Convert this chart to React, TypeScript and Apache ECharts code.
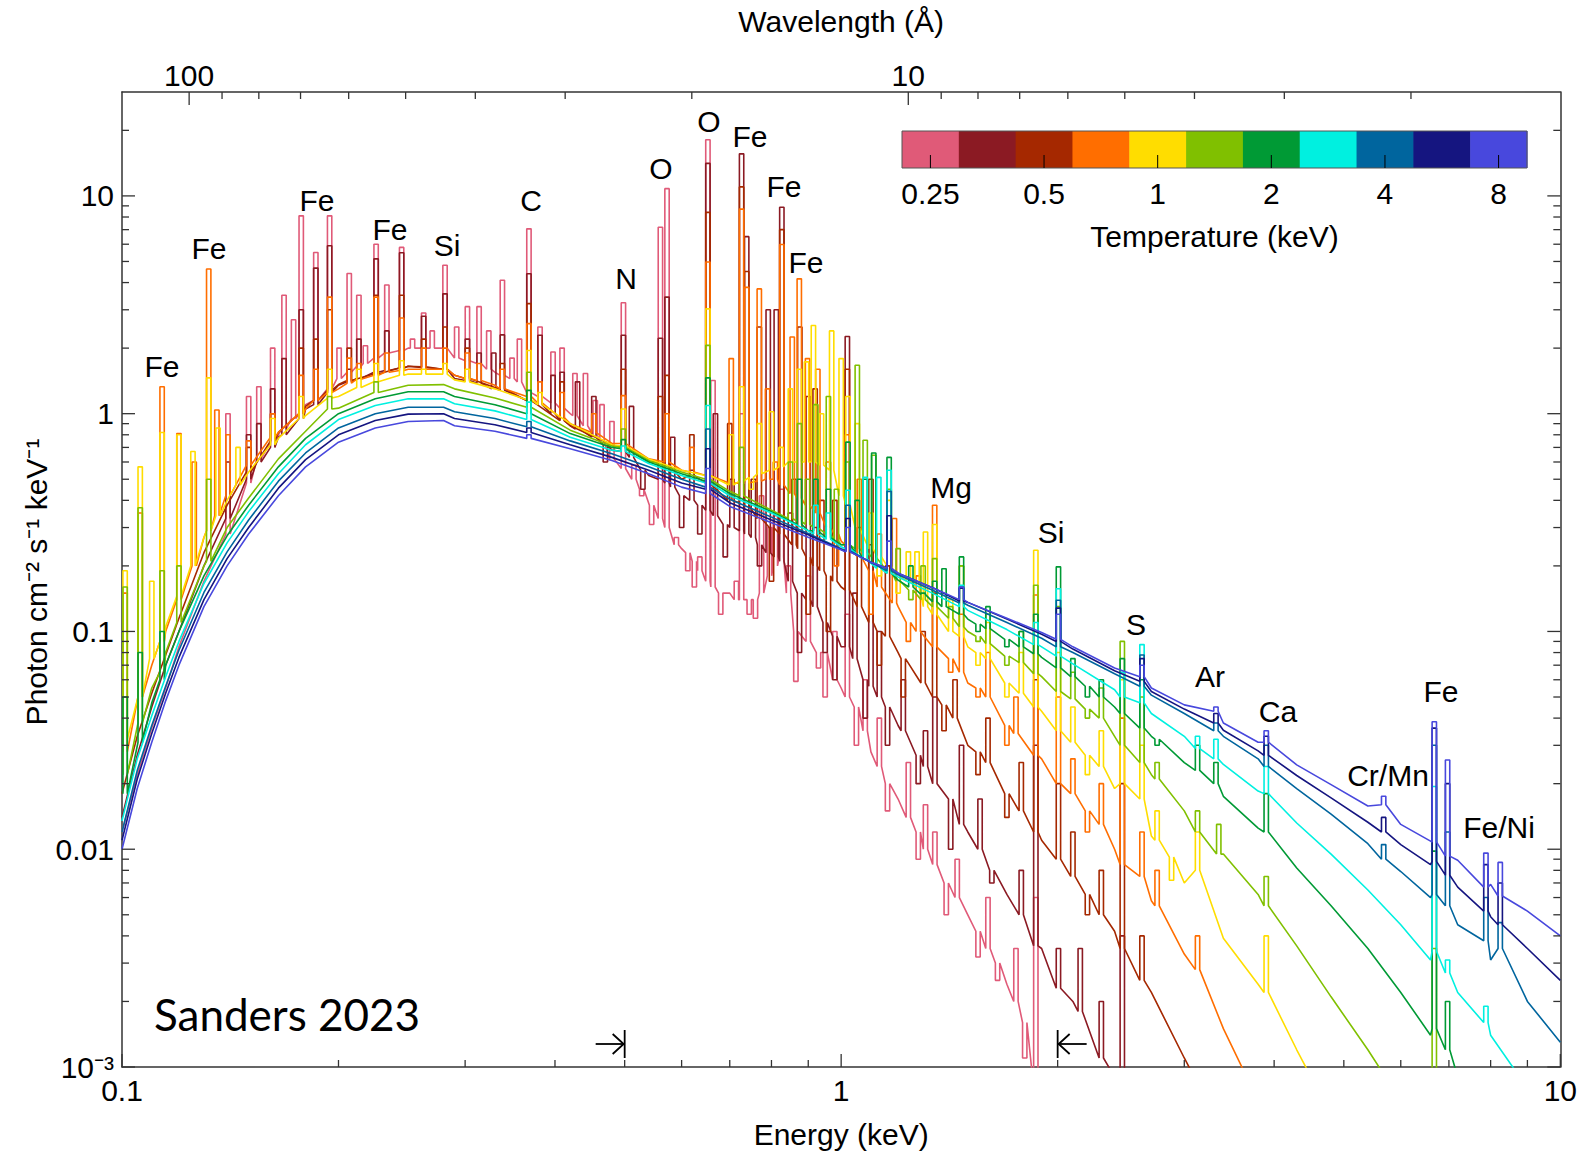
import React, { useEffect, useRef } from "react";
import * as echarts from "echarts";

const FONT = "'Liberation Sans', Arial, Helvetica, sans-serif";
const HC = 12.398; // keV * Angstrom

// ---------------- DATA ----------------
const energyGrid = [0.1, 0.105, 0.11, 0.115, 0.12, 0.13, 0.14, 0.15, 0.165, 0.18, 0.2, 0.225, 0.25, 0.28, 0.29, 0.33, 0.37, 0.42, 0.48, 0.54, 0.6, 0.7, 0.8, 0.9, 1.0, 1.1, 1.2, 1.35, 1.5, 1.7, 1.9, 2.1, 2.4, 2.7, 3.0, 3.4, 3.8, 4.3, 4.8, 5.4, 6.0, 6.6, 7.2, 8.0, 9.0, 10.0];

const temperatureKeV = [0.25, 0.35, 0.5, 0.71, 1.0, 1.41, 2.0, 2.83, 4.0, 5.66, 8.0];
const colorbarLabels = ["0.25", "0.5", "1", "2", "4", "8"];
const seriesColors = ["#e05a78", "#8b1a23", "#a52800", "#ff6e00", "#ffdd00", "#80c000", "#009a35", "#00f0e0", "#00659e", "#151580", "#4848dd"];

// continuum level of each spectrum on energyGrid (photon cm^-2 s^-1 keV^-1)
const cont025 = [0.012, 0.022, 0.036, 0.055, 0.085, 0.17, 0.3, 0.48, 0.8, 1.1, 1.45, 1.8, 2.0, 2.0, 1.8, 1.55, 1.25, 1.0, 0.6, 0.35, 0.24, 0.15, 0.19, 0.09, 0.055, 0.028, 0.017, 0.0085, 0.005, 0.0024, 0.0009, 0.0004, 0.0002, 0.0001, 0.00005, 0.00002, 0.00001, 0.000005, 0.000003, 0.000002, 0.000001, 0.0000005, 0.0000003, 0.0000002, 0.0000001, 0.00000005];
const cont035 = [0.014, 0.027, 0.045, 0.07, 0.1, 0.2, 0.34, 0.5, 0.78, 1.05, 1.35, 1.55, 1.65, 1.6, 1.45, 1.3, 1.15, 0.88, 0.68, 0.52, 0.42, 0.3, 0.22, 0.14, 0.085, 0.056, 0.037, 0.02, 0.012, 0.0062, 0.0035, 0.002, 0.0009, 0.0004, 0.0002, 0.0001, 0.00005, 0.00002, 0.00001, 0.000005, 0.000003, 0.000002, 0.000001, 0.0000005, 0.0000003, 0.0000001];
const cont050 = [0.018, 0.033, 0.052, 0.078, 0.115, 0.23, 0.38, 0.54, 0.82, 1.08, 1.36, 1.55, 1.65, 1.62, 1.5, 1.32, 1.15, 0.88, 0.72, 0.6, 0.5, 0.4, 0.3, 0.22, 0.16, 0.11, 0.08, 0.05, 0.03, 0.018, 0.011, 0.0075, 0.0042, 0.0022, 0.0011, 0.0005, 0.0002, 0.0001, 0.00005, 0.00002, 0.00001, 0.000005, 0.000003, 0.000002, 0.000001, 0.0000005];
const cont071 = [0.025, 0.045, 0.07, 0.1, 0.14, 0.27, 0.42, 0.58, 0.82, 1.05, 1.3, 1.5, 1.6, 1.6, 1.5, 1.35, 1.2, 0.9, 0.73, 0.62, 0.55, 0.48, 0.5, 0.38, 0.26, 0.18, 0.13, 0.085, 0.058, 0.037, 0.026, 0.018, 0.01, 0.0058, 0.0033, 0.0015, 0.0007, 0.0003, 0.00015, 0.00007, 0.00003, 0.00002, 0.00001, 0.000005, 0.000003, 0.000001];
const cont100 = [0.03, 0.05, 0.075, 0.105, 0.145, 0.27, 0.4, 0.54, 0.77, 0.98, 1.2, 1.4, 1.52, 1.52, 1.43, 1.3, 1.16, 0.9, 0.72, 0.62, 0.55, 0.47, 0.55, 0.6, 0.42, 0.25, 0.18, 0.12, 0.085, 0.058, 0.043, 0.031, 0.019, 0.0115, 0.007, 0.0039, 0.0024, 0.0012, 0.0006, 0.0003, 0.00015, 0.0001, 0.00005, 0.00002, 0.00001, 0.000005];
const cont141 = [0.021, 0.036, 0.055, 0.08, 0.11, 0.2, 0.3, 0.41, 0.62, 0.83, 1.06, 1.25, 1.35, 1.36, 1.3, 1.18, 1.07, 0.84, 0.71, 0.61, 0.54, 0.44, 0.36, 0.3, 0.25, 0.21, 0.17, 0.13, 0.1, 0.077, 0.062, 0.049, 0.033, 0.022, 0.015, 0.0095, 0.0062, 0.0036, 0.0021, 0.0012, 0.0007, 0.0004, 0.0002, 0.0001, 0.00005, 0.00002];
const cont200 = [0.017, 0.03, 0.047, 0.07, 0.1, 0.18, 0.275, 0.38, 0.57, 0.77, 1.0, 1.17, 1.26, 1.26, 1.2, 1.1, 1.0, 0.81, 0.7, 0.6, 0.53, 0.43, 0.355, 0.29, 0.25, 0.205, 0.172, 0.137, 0.114, 0.092, 0.076, 0.062, 0.045, 0.033, 0.025, 0.0175, 0.0125, 0.0082, 0.0055, 0.0035, 0.0022, 0.0014, 0.0009, 0.0005, 0.00025, 0.00012];
const cont283 = [0.0135, 0.026, 0.041, 0.062, 0.09, 0.166, 0.255, 0.355, 0.53, 0.72, 0.94, 1.09, 1.17, 1.17, 1.11, 1.03, 0.94, 0.78, 0.68, 0.59, 0.52, 0.42, 0.35, 0.29, 0.245, 0.206, 0.178, 0.148, 0.125, 0.102, 0.085, 0.071, 0.054, 0.042, 0.033, 0.0245, 0.0185, 0.0132, 0.0095, 0.0065, 0.0045, 0.0031, 0.0022, 0.0014, 0.0008, 0.00045];
const cont400 = [0.012, 0.023, 0.037, 0.056, 0.082, 0.151, 0.232, 0.325, 0.49, 0.66, 0.86, 1.0, 1.07, 1.07, 1.02, 0.95, 0.87, 0.75, 0.655, 0.57, 0.5, 0.405, 0.335, 0.282, 0.24, 0.207, 0.182, 0.153, 0.132, 0.11, 0.093, 0.08, 0.064, 0.051, 0.042, 0.033, 0.026, 0.019, 0.0145, 0.0106, 0.0079, 0.006, 0.0045, 0.0031, 0.002, 0.0013];
const cont566 = [0.011, 0.021, 0.034, 0.052, 0.076, 0.14, 0.216, 0.3, 0.455, 0.615, 0.8, 0.93, 0.995, 1.0, 0.95, 0.89, 0.82, 0.72, 0.63, 0.55, 0.48, 0.39, 0.325, 0.278, 0.238, 0.208, 0.185, 0.157, 0.136, 0.114, 0.097, 0.083, 0.066, 0.053, 0.044, 0.0352, 0.0283, 0.0218, 0.0172, 0.0133, 0.0105, 0.0085, 0.0067, 0.0049, 0.0035, 0.0025];
const cont800 = [0.01, 0.019, 0.031, 0.048, 0.07, 0.13, 0.2, 0.28, 0.42, 0.57, 0.74, 0.86, 0.92, 0.93, 0.88, 0.83, 0.77, 0.69, 0.61, 0.53, 0.46, 0.375, 0.316, 0.271, 0.237, 0.208, 0.185, 0.157, 0.136, 0.115, 0.099, 0.085, 0.068, 0.055, 0.046, 0.038, 0.031, 0.0244, 0.0198, 0.0158, 0.013, 0.0109, 0.0089, 0.0069, 0.0052, 0.004];

// emission lines / features: [energy keV, level at the line, local level beside it]
const lines025 = [[0.1404, 1.0, 0.28], [0.15, 1.2, 0.48], [0.155, 1.33, 0.62], [0.162, 2.0, 0.74], [0.1645, 2.75, 0.78], [0.168, 3.5, 0.85], [0.1732, 2.7, 0.95], [0.1775, 8.1, 1.0], [0.186, 5.5, 1.15], [0.1944, 8.1, 1.3], [0.2004, 2.0, 1.45], [0.207, 4.4, 1.55], [0.2135, 3.5, 1.65], [0.218, 2.05, 1.7], [0.2256, 6.0, 1.8], [0.2335, 3.9, 1.9], [0.2448, 5.8, 1.95], [0.2535, 2.2, 2.0], [0.2627, 2.9, 2.0], [0.27, 2.4, 2.0], [0.2813, 4.8, 2.0], [0.292, 2.5, 1.8], [0.3022, 3.1, 1.75], [0.3137, 3.1, 1.7], [0.3236, 2.4, 1.6], [0.3288, 3.5, 1.55], [0.338, 4.1, 1.5], [0.3486, 1.8, 1.45], [0.357, 2.2, 1.4], [0.368, 7.06, 1.25], [0.3813, 2.5, 1.2], [0.3975, 1.92, 1.12], [0.4092, 2.0, 1.06], [0.4264, 1.53, 0.98], [0.441, 1.53, 0.88], [0.455, 1.15, 0.8], [0.465, 1.1, 0.74], [0.48, 0.92, 0.62], [0.498, 3.23, 0.56], [0.515, 0.58, 0.5], [0.528, 0.42, 0.45], [0.545, 0.31, 0.38], [0.5606, 7.18, 0.33], [0.5726, 10.8, 0.3], [0.59, 0.27, 0.25], [0.612, 0.19, 0.23], [0.625, 0.16, 0.21], [0.636, 0.22, 0.19], [0.6527, 18.1, 0.17], [0.6634, 1.42, 0.16], [0.68, 0.12, 0.15], [0.715, 0.17, 0.14], [0.727, 1.0, 0.14], [0.745, 0.12, 0.14], [0.76, 0.115, 0.14], [0.775, 0.42, 0.15], [0.795, 0.3, 0.18], [0.81, 0.34, 0.2], [0.826, 0.45, 0.22], [0.845, 0.2, 0.15], [0.865, 0.059, 0.1], [0.9, 0.18, 0.09], [0.93, 0.068, 0.08], [0.95, 0.05, 0.08], [0.98, 0.1, 0.06], [1.02, 0.12, 0.05], [1.05, 0.03, 0.045], [1.08, 0.06, 0.035], [1.13, 0.04, 0.024], [1.16, 0.015, 0.02], [1.24, 0.025, 0.014], [1.28, 0.009, 0.012], [1.31, 0.016, 0.01], [1.35, 0.012, 0.0085], [1.4, 0.005, 0.007], [1.45, 0.009, 0.006], [1.55, 0.0032, 0.0042], [1.6, 0.006, 0.0035], [1.65, 0.0025, 0.003], [1.75, 0.0035, 0.002], [1.8, 0.0011, 0.0016], [1.865, 0.006, 0.0008]];
const lines035 = [[0.1404, 0.6, 0.33], [0.15, 0.8, 0.5], [0.155, 0.9, 0.6], [0.162, 1.3, 0.7], [0.168, 1.79, 0.8], [0.1775, 3.0, 0.95], [0.186, 4.66, 1.1], [0.1944, 5.9, 1.25], [0.207, 1.6, 1.4], [0.2135, 2.2, 1.45], [0.2256, 5.14, 1.55], [0.2335, 2.4, 1.58], [0.2448, 5.48, 1.62], [0.2627, 2.8, 1.63], [0.2813, 3.55, 1.6], [0.3022, 2.2, 1.42], [0.3137, 1.9, 1.38], [0.3288, 1.9, 1.3], [0.338, 2.3, 1.28], [0.368, 4.39, 1.15], [0.3813, 2.29, 1.1], [0.3975, 1.5, 1.0], [0.4092, 1.55, 0.93], [0.43, 1.4, 0.85], [0.453, 1.2, 0.78], [0.47, 0.6, 0.72], [0.498, 2.29, 0.67], [0.511, 1.08, 0.63], [0.53, 0.45, 0.55], [0.5606, 2.22, 0.5], [0.5726, 3.43, 0.48], [0.583, 0.78, 0.46], [0.6, 0.3, 0.42], [0.62, 0.55, 0.4], [0.636, 0.28, 0.38], [0.6527, 14.1, 0.36], [0.6686, 1.0, 0.34], [0.69, 0.22, 0.31], [0.705, 0.5, 0.3], [0.727, 15.6, 0.29], [0.739, 6.5, 0.28], [0.755, 0.5, 0.27], [0.77, 0.2, 0.25], [0.7917, 3.0, 0.23], [0.8124, 3.0, 0.22], [0.827, 8.87, 0.21], [0.85, 0.35, 0.17], [0.875, 0.08, 0.15], [0.9, 1.2, 0.14], [0.92, 0.3, 0.13], [0.95, 0.08, 0.11], [0.98, 0.06, 0.095], [1.02, 2.26, 0.085], [1.045, 0.15, 0.075], [1.08, 0.04, 0.06], [1.1, 0.25, 0.056], [1.13, 0.1, 0.05], [1.16, 0.03, 0.045], [1.22, 0.06, 0.035], [1.28, 0.02, 0.027], [1.31, 0.035, 0.024], [1.35, 0.05, 0.02], [1.42, 0.01, 0.017], [1.47, 0.03, 0.013], [1.56, 0.017, 0.01], [1.62, 0.007, 0.008], [1.78, 0.008, 0.005], [1.865, 0.03, 0.0036], [2.005, 0.0035, 0.0023], [2.15, 0.0035, 0.0018], [2.3, 0.002, 0.0011], [2.46, 0.004, 0.0007]];
const lines050 = [[0.15, 0.7, 0.54], [0.162, 1.0, 0.75], [0.1775, 2.0, 1.0], [0.186, 2.2, 1.15], [0.1944, 3.0, 1.28], [0.207, 2.0, 1.42], [0.2256, 3.5, 1.52], [0.2448, 3.5, 1.62], [0.2627, 2.2, 1.64], [0.2813, 2.5, 1.6], [0.3022, 2.0, 1.45], [0.338, 1.7, 1.3], [0.368, 3.2, 1.15], [0.4092, 1.4, 0.93], [0.498, 1.6, 0.7], [0.5606, 1.2, 0.6], [0.5726, 1.5, 0.58], [0.62, 0.8, 0.52], [0.6527, 8.4, 0.48], [0.7, 0.9, 0.4], [0.727, 11.0, 0.39], [0.739, 4.5, 0.38], [0.7694, 2.5, 0.33], [0.8, 0.17, 0.3], [0.827, 7.0, 0.28], [0.86, 0.5, 0.25], [0.876, 2.5, 0.24], [0.9, 0.12, 0.22], [0.92, 1.3, 0.2], [0.94, 0.4, 0.19], [0.96, 0.1, 0.18], [0.98, 0.4, 0.17], [1.02, 1.6, 0.155], [1.06, 0.3, 0.13], [1.1, 0.5, 0.11], [1.13, 0.07, 0.1], [1.16, 0.2, 0.095], [1.22, 0.05, 0.075], [1.3, 0.1, 0.058], [1.349, 0.15, 0.05], [1.39, 0.035, 0.046], [1.44, 0.06, 0.04], [1.55, 0.022, 0.028], [1.6, 0.04, 0.025], [1.7, 0.014, 0.018], [1.78, 0.025, 0.015], [1.865, 0.06, 0.012], [2.005, 0.02, 0.009], [2.1, 0.012, 0.0075], [2.2, 0.005, 0.0062], [2.3, 0.008, 0.005], [2.46, 0.02, 0.0035], [2.62, 0.004, 0.0025]];
const lines071 = [[0.101, 0.15, 0.028], [0.106, 0.35, 0.05], [0.1137, 1.33, 0.09], [0.12, 0.81, 0.14], [0.126, 0.6, 0.2], [0.132, 4.62, 0.29], [0.1355, 1.04, 0.34], [0.1404, 0.8, 0.42], [0.15, 0.75, 0.58], [0.162, 1.0, 0.78], [0.1775, 1.5, 1.0], [0.186, 1.6, 1.15], [0.1944, 3.43, 1.25], [0.207, 1.8, 1.38], [0.2135, 1.7, 1.44], [0.2256, 3.43, 1.5], [0.2335, 1.9, 1.55], [0.2448, 2.75, 1.58], [0.2627, 2.0, 1.6], [0.2813, 2.0, 1.6], [0.3022, 1.9, 1.45], [0.3137, 1.7, 1.42], [0.338, 1.6, 1.3], [0.368, 2.59, 1.2], [0.3813, 1.4, 1.12], [0.4092, 1.25, 0.96], [0.453, 1.0, 0.82], [0.498, 1.21, 0.73], [0.5726, 1.0, 0.6], [0.62, 0.7, 0.54], [0.6527, 4.97, 0.52], [0.7033, 1.79, 0.48], [0.727, 8.7, 0.48], [0.739, 3.8, 0.48], [0.7694, 3.74, 0.49], [0.79, 1.3, 0.5], [0.81, 0.6, 0.5], [0.827, 5.98, 0.47], [0.855, 2.25, 0.43], [0.8745, 4.16, 0.41], [0.898, 1.79, 0.38], [0.928, 1.6, 0.35], [0.96, 0.6, 0.3], [0.985, 0.2, 0.28], [1.02, 0.8, 0.25], [1.06, 0.5, 0.22], [1.1, 0.12, 0.19], [1.13, 0.28, 0.16], [1.186, 0.33, 0.135], [1.24, 0.09, 0.11], [1.28, 0.18, 0.1], [1.349, 0.38, 0.085], [1.42, 0.065, 0.075], [1.47, 0.12, 0.065], [1.55, 0.05, 0.055], [1.6, 0.08, 0.05], [1.7, 0.03, 0.037], [1.75, 0.05, 0.034], [1.865, 0.147, 0.027], [2.005, 0.05, 0.02], [2.1, 0.026, 0.018], [2.2, 0.012, 0.015], [2.3, 0.02, 0.013], [2.46, 0.04, 0.0085], [2.62, 0.012, 0.0075], [2.75, 0.008, 0.0055], [3.13, 0.004, 0.0028]];
const lines100 = [[0.101, 0.19, 0.032], [0.106, 0.57, 0.05], [0.11, 0.17, 0.075], [0.1137, 0.82, 0.09], [0.12, 0.8, 0.145], [0.1255, 0.67, 0.2], [0.132, 1.46, 0.29], [0.136, 0.86, 0.34], [0.145, 0.7, 0.47], [0.162, 0.95, 0.72], [0.1775, 1.2, 0.95], [0.1944, 1.6, 1.18], [0.2135, 1.6, 1.32], [0.2256, 1.7, 1.4], [0.2448, 1.75, 1.5], [0.2627, 1.6, 1.52], [0.2813, 1.7, 1.52], [0.3022, 1.6, 1.4], [0.368, 1.95, 1.16], [0.3813, 1.25, 1.1], [0.498, 1.05, 0.71], [0.6527, 3.03, 0.52], [0.7033, 0.8, 0.47], [0.727, 1.33, 0.49], [0.75, 0.45, 0.51], [0.77, 0.9, 0.53], [0.8, 1.02, 0.55], [0.825, 0.7, 0.57], [0.85, 1.3, 0.6], [0.8745, 1.6, 0.6], [0.895, 1.73, 0.6], [0.915, 2.54, 0.6], [0.939, 1.0, 0.58], [0.97, 2.4, 0.55], [1.0, 1.79, 0.42], [1.022, 1.2, 0.38], [1.053, 0.9, 0.3], [1.1, 0.35, 0.24], [1.13, 0.18, 0.22], [1.166, 0.4, 0.2], [1.2, 0.15, 0.18], [1.24, 0.232, 0.17], [1.275, 0.232, 0.16], [1.31, 0.286, 0.13], [1.349, 0.31, 0.12], [1.42, 0.14, 0.1], [1.47, 0.2, 0.095], [1.55, 0.07, 0.08], [1.6, 0.11, 0.075], [1.7, 0.05, 0.058], [1.78, 0.08, 0.052], [1.865, 0.236, 0.045], [2.005, 0.08, 0.035], [2.1, 0.045, 0.031], [2.2, 0.022, 0.027], [2.3, 0.035, 0.024], [2.46, 0.06, 0.02], [2.62, 0.03, 0.017], [2.75, 0.015, 0.011], [2.88, 0.0072, 0.0092], [3.13, 0.012, 0.008], [3.9, 0.004, 0.0022]];
const lines141 = [[0.101, 0.16, 0.022], [0.106, 0.37, 0.038], [0.1137, 0.19, 0.065], [0.12, 0.2, 0.11], [0.132, 0.5, 0.21], [0.1944, 1.2, 1.05], [0.2256, 1.4, 1.25], [0.368, 1.55, 1.07], [0.498, 0.85, 0.7], [0.6527, 2.06, 0.5], [0.727, 0.7, 0.42], [0.85, 0.6, 0.33], [0.875, 0.9, 0.32], [0.898, 0.5, 0.31], [0.922, 1.1, 0.3], [0.96, 1.2, 0.28], [0.985, 0.45, 0.26], [1.02, 0.6, 0.25], [1.053, 1.67, 0.24], [1.08, 0.755, 0.23], [1.11, 0.644, 0.22], [1.166, 0.45, 0.19], [1.2, 0.24, 0.17], [1.25, 0.14, 0.155], [1.3, 0.2, 0.14], [1.349, 0.216, 0.13], [1.42, 0.13, 0.115], [1.47, 0.2, 0.105], [1.55, 0.09, 0.095], [1.6, 0.12, 0.088], [1.7, 0.07, 0.077], [1.78, 0.1, 0.072], [1.865, 0.163, 0.064], [2.005, 0.13, 0.053], [2.1, 0.065, 0.049], [2.2, 0.04, 0.044], [2.3, 0.055, 0.04], [2.46, 0.09, 0.03], [2.62, 0.05, 0.025], [2.75, 0.025, 0.021], [3.13, 0.015, 0.012], [3.35, 0.013, 0.0095], [3.9, 0.0075, 0.0055], [6.68, 0.0035, 0.0005]];
const lines200 = [[0.101, 0.05, 0.018], [0.106, 0.08, 0.031], [0.1137, 0.1, 0.06], [0.368, 1.28, 1.0], [0.498, 0.76, 0.69], [0.6527, 1.46, 0.49], [0.875, 0.5, 0.31], [0.922, 0.5, 0.29], [0.96, 0.45, 0.27], [1.022, 0.74, 0.25], [1.053, 0.4, 0.23], [1.08, 0.5, 0.215], [1.11, 0.66, 0.205], [1.166, 0.63, 0.185], [1.25, 0.2, 0.16], [1.3, 0.15, 0.148], [1.349, 0.17, 0.137], [1.39, 0.194, 0.13], [1.47, 0.22, 0.12], [1.55, 0.1, 0.108], [1.6, 0.13, 0.103], [1.7, 0.085, 0.092], [1.78, 0.1, 0.085], [1.865, 0.12, 0.079], [2.005, 0.198, 0.068], [2.1, 0.075, 0.062], [2.2, 0.05, 0.056], [2.3, 0.06, 0.05], [2.46, 0.075, 0.042], [2.62, 0.06, 0.036], [2.75, 0.03, 0.032], [3.13, 0.03, 0.023], [3.32, 0.025, 0.02], [3.9, 0.018, 0.012], [6.68, 0.0098, 0.0015], [6.97, 0.002, 0.0012]];
const lines283 = [[0.368, 1.13, 0.94], [0.498, 0.71, 0.67], [0.6527, 1.09, 0.48], [0.922, 0.38, 0.28], [0.96, 0.35, 0.265], [1.022, 0.445, 0.24], [1.08, 0.51, 0.215], [1.128, 0.51, 0.195], [1.166, 0.55, 0.185], [1.47, 0.163, 0.13], [1.865, 0.11, 0.087], [2.005, 0.157, 0.077], [2.46, 0.065, 0.05], [2.62, 0.087, 0.047], [3.13, 0.033, 0.029], [3.32, 0.032, 0.026], [3.9, 0.024, 0.018], [6.68, 0.0194, 0.0034], [6.97, 0.0031, 0.0027], [7.88, 0.0019, 0.0016]];
const lines400 = [[0.368, 0.92, 0.87], [0.6527, 0.85, 0.46], [1.022, 0.38, 0.235], [1.166, 0.44, 0.19], [1.47, 0.16, 0.135], [2.005, 0.139, 0.085], [2.62, 0.078, 0.056], [3.32, 0.038, 0.035], [3.9, 0.03, 0.024], [5.68, 0.0105, 0.009], [6.68, 0.03, 0.0062], [6.97, 0.012, 0.0055], [7.88, 0.006, 0.0038], [8.25, 0.0046, 0.0035]];
const lines566 = [[0.368, 0.86, 0.82], [0.6527, 0.69, 0.45], [1.022, 0.33, 0.232], [1.166, 0.34, 0.195], [1.47, 0.158, 0.138], [2.005, 0.128, 0.09], [2.62, 0.075, 0.059], [3.32, 0.042, 0.038], [3.9, 0.033, 0.027], [5.68, 0.014, 0.012], [6.68, 0.036, 0.0088], [6.97, 0.02, 0.0076], [7.88, 0.0085, 0.0052], [8.25, 0.007, 0.0045]];
const lines800 = [[0.368, 0.8, 0.77], [0.6527, 0.56, 0.43], [1.022, 0.3, 0.232], [1.166, 0.26, 0.195], [1.47, 0.16, 0.14], [2.005, 0.12, 0.092], [2.62, 0.07, 0.062], [3.32, 0.045, 0.043], [3.9, 0.035, 0.031], [5.68, 0.0175, 0.016], [6.68, 0.0385, 0.0108], [6.97, 0.0257, 0.0093], [7.88, 0.0096, 0.0067], [8.25, 0.0087, 0.0061]];

const continua = [cont025, cont035, cont050, cont071, cont100, cont141, cont200, cont283, cont400, cont566, cont800];
const lineLists = [lines025, lines035, lines050, lines071, lines100, lines141, lines200, lines283, lines400, lines566, lines800];

// axis ticks
const energyMajorTicks = [0.1, 1, 10];
const energyMinorTicks = [0.2, 0.3, 0.4, 0.5, 0.6, 0.7, 0.8, 0.9, 2, 3, 4, 5, 6, 7, 8, 9];
const wavelengthMajorTicks = [10, 100];
const wavelengthMinorTicks = [2, 3, 4, 5, 6, 7, 8, 9, 20, 30, 40, 50, 60, 70, 80, 90];
const fluxMajorTicks = [0.001, 0.01, 0.1, 1, 10];
const fluxMinorTicks = [0.002, 0.003, 0.004, 0.005, 0.006, 0.007, 0.008, 0.009, 0.02, 0.03, 0.04, 0.05, 0.06, 0.07, 0.08, 0.09, 0.2, 0.3, 0.4, 0.5, 0.6, 0.7, 0.8, 0.9, 2, 3, 4, 5, 6, 7, 8, 9, 20];
const fluxLabels: Record<string, string> = { "0.001": "10\u207B\u00B3", "0.01": "0.01", "0.1": "0.1", "1": "1", "10": "10" };

// band marked with arrows (keV)
const arrowEnergies = [0.5, 2.0];

// ---------------- LAYOUT ----------------
const featureLabels: [string, number, number][] = [
  ["Fe", 162, 366], ["Fe", 209, 248], ["Fe", 317, 200], ["Fe", 390, 229], ["Si", 447, 245],
  ["C", 531, 200], ["N", 626, 278], ["O", 661, 168], ["O", 709, 121], ["Fe", 750, 136],
  ["Fe", 784, 186], ["Fe", 806, 262], ["Mg", 951, 487], ["Si", 1051, 532], ["S", 1136, 624],
  ["Ar", 1210, 676], ["Ca", 1278, 711], ["Fe", 1441, 691], ["Cr/Mn", 1388, 775], ["Fe/Ni", 1499, 827],
];

const SPIKE = 1.007;

function buildSpectrum(cont: number[], lines: number[][]) {
  const sorted = [...lines].sort((a, b) => a[0] - b[0]);
  const kept: number[][] = [];
  sorted.forEach((l) => {
    if (kept.length && l[0] / kept[kept.length - 1][0] < SPIKE * SPIKE * 1.002) return;
    kept.push(l);
  });
  const groups: { e: number; pts: number[][] }[] = [];
  const lim = Math.log(SPIKE) * 1.6;
  cont.forEach((v, i) => {
    const e = energyGrid[i];
    if (kept.some((l) => Math.abs(Math.log(e / l[0])) < lim)) return;
    groups.push({ e, pts: [[e, v]] });
  });
  kept.forEach(([e, peak, base]) => {
    groups.push({
      e,
      pts: [[e / SPIKE, base], [e / SPIKE, peak], [e * SPIKE, peak], [e * SPIKE, base]],
    });
  });
  groups.sort((a, b) => a.e - b.e);
  return groups.flatMap((g) => g.pts);
}

function matchLabel(v: number, list: number[]) {
  return list.find((t) => Math.abs(v / t - 1) < 1e-6);
}

const AXIS_COLOR = "#333";

function buildOption() {
  const spectra = continua.map((c, i) => ({
    type: "line",
    name: temperatureKeV[i] + " keV",
    data: buildSpectrum(c, lineLists[i]),
    showSymbol: false,
    symbol: "none",
    silent: true,
    clip: true,
    lineStyle: { color: seriesColors[i], width: 1.6 },
    itemStyle: { color: seriesColors[i] },
    z: 2,
  }));

  const tickStyle = { stroke: AXIS_COLOR, lineWidth: 1.3 };

  const energyTickSeries = {
    type: "custom",
    xAxisIndex: 0,
    yAxisIndex: 0,
    silent: true,
    z: 5,
    encode: { x: 0, y: 1 },
    data: [...energyMajorTicks.map((v) => [v, 1, 1]), ...energyMinorTicks.map((v) => [v, 1, 0])],
    renderItem: (params: any, api: any) => {
      const x = api.coord([api.value(0), 1])[0];
      const cs = params.coordSys;
      const len = api.value(2) ? 13 : 7;
      const yb = cs.y + cs.height;
      return { type: "line", shape: { x1: x, y1: yb, x2: x, y2: yb - len }, style: tickStyle };
    },
  };

  const wavelengthTickSeries = {
    type: "custom",
    xAxisIndex: 1,
    yAxisIndex: 0,
    silent: true,
    z: 5,
    encode: { x: 0, y: 1 },
    data: [...wavelengthMajorTicks.map((v) => [v, 1, 1]), ...wavelengthMinorTicks.map((v) => [v, 1, 0])],
    renderItem: (params: any, api: any) => {
      const x = api.coord([api.value(0), 1])[0];
      const cs = params.coordSys;
      const len = api.value(2) ? 13 : 7;
      return { type: "line", shape: { x1: x, y1: cs.y, x2: x, y2: cs.y + len }, style: tickStyle };
    },
  };

  const fluxTickSeries = {
    type: "custom",
    xAxisIndex: 0,
    yAxisIndex: 0,
    silent: true,
    z: 5,
    encode: { x: 0, y: 1 },
    data: [...fluxMajorTicks.map((v) => [1, v, 1]), ...fluxMinorTicks.map((v) => [1, v, 0])],
    renderItem: (params: any, api: any) => {
      const y = api.coord([1, api.value(1)])[1];
      const cs = params.coordSys;
      const len = api.value(2) ? 13 : 7;
      const xr = cs.x + cs.width;
      return {
        type: "group",
        children: [
          { type: "line", shape: { x1: cs.x, y1: y, x2: cs.x + len, y2: y }, style: tickStyle },
          { type: "line", shape: { x1: xr, y1: y, x2: xr - len, y2: y }, style: tickStyle },
        ],
      };
    },
  };

  const axisLine = { show: true, onZero: false, lineStyle: { color: AXIS_COLOR, width: 1.5 } };
  const labelText = { fontFamily: FONT, fontSize: 30, color: "#000" };

  return {
    animation: false,
    backgroundColor: "#ffffff",
    grid: { left: 122, right: 16, top: 92, bottom: 86, containLabel: false },
    xAxis: [
      {
        type: "log",
        logBase: 10,
        min: 0.1,
        max: 10,
        position: "bottom",
        name: "Energy (keV)",
        nameLocation: "middle",
        nameGap: 52,
        nameTextStyle: labelText,
        axisLine,
        axisTick: { show: false },
        minorTick: { show: false },
        splitLine: { show: false },
        axisLabel: {
          ...labelText,
          margin: 11,
          lineHeight: 24,
          showMinLabel: true,
          showMaxLabel: true,
          formatter: (v: number) => {
            const m = matchLabel(v, energyMajorTicks);
            return m !== undefined ? String(m) : "";
          },
        },
      },
      {
        type: "log",
        logBase: 10,
        min: HC / 10,
        max: HC / 0.1,
        inverse: true,
        position: "top",
        name: "Wavelength (\u00C5)",
        nameLocation: "middle",
        nameGap: 56,
        nameTextStyle: labelText,
        axisLine,
        axisTick: { show: false },
        minorTick: { show: false },
        splitLine: { show: false },
        axisLabel: {
          ...labelText,
          margin: 2,
          formatter: (v: number) => {
            const m = matchLabel(v, wavelengthMajorTicks);
            return m !== undefined ? String(m) : "";
          },
        },
      },
    ],
    yAxis: [
      {
        type: "log",
        logBase: 10,
        min: 0.001,
        max: 30,
        position: "left",
        axisLine,
        axisTick: { show: false },
        minorTick: { show: false },
        splitLine: { show: false },
        axisLabel: {
          ...labelText,
          margin: 8,
          lineHeight: 22,
          formatter: (v: number) => {
            const m = matchLabel(v, fluxMajorTicks);
            return m !== undefined ? fluxLabels[String(m)] : "";
          },
        },
      },
      {
        type: "log",
        logBase: 10,
        min: 0.001,
        max: 30,
        position: "right",
        axisLine,
        axisTick: { show: false },
        minorTick: { show: false },
        splitLine: { show: false },
        axisLabel: { show: false },
      },
    ],
    series: [...spectra, energyTickSeries, wavelengthTickSeries, fluxTickSeries],
  };
}

function text(t: string, x: number, y: number, size: number, extra: any = {}) {
  return {
    type: "text",
    x,
    y,
    silent: true,
    z: 50,
    ...extra,
    style: {
      text: t,
      fontFamily: FONT,
      fontSize: size,
      fill: "#000",
      textAlign: "center",
      textVerticalAlign: "middle",
      align: "center",
      verticalAlign: "middle",
      ...(extra.style || {}),
    },
  };
}

function buildGraphics(xa: number, xb: number) {
  const els: any[] = [];
  // colour bar
  const cbLeft = 902;
  const cbRight = 1527;
  const cbTop = 131;
  const cbBottom = 168;
  const w = (cbRight - cbLeft) / seriesColors.length;
  seriesColors.forEach((c, i) => {
    els.push({
      type: "rect",
      silent: true,
      z: 40,
      shape: { x: cbLeft + i * w, y: cbTop, width: w + 0.6, height: cbBottom - cbTop },
      style: { fill: c, stroke: null },
    });
  });
  els.push({
    type: "rect",
    silent: true,
    z: 41,
    shape: { x: cbLeft, y: cbTop, width: cbRight - cbLeft, height: cbBottom - cbTop },
    style: { fill: null, stroke: "#555", lineWidth: 1 },
  });
  colorbarLabels.forEach((lab, k) => {
    const cx = cbLeft + (2 * k + 0.5) * w;
    els.push({
      type: "line",
      silent: true,
      z: 42,
      shape: { x1: cx, y1: cbBottom, x2: cx, y2: cbBottom - 13 },
      style: { stroke: "#000", lineWidth: 1 },
    });
    els.push(text(lab, cx, 193, 30));
  });
  els.push(text("Temperature (keV)", (cbLeft + cbRight) / 2, 236, 30));

  // element labels
  featureLabels.forEach(([t, x, y]) => els.push(text(t, x, y, 30)));

  // y axis title
  els.push(text("Photon cm\u207B\u00B2 s\u207B\u00B9 keV\u207B\u00B9", 36, 582, 30, { rotation: Math.PI / 2 }));

  // credit
  els.push({
    type: "text",
    x: 154,
    y: 1014,
    silent: true,
    z: 50,
    style: {
      text: "Sanders 2023",
      fontFamily: "Lato, 'Open Sans', sans-serif",
      fontSize: 44,
      fill: "#000",
      textAlign: "left",
      align: "left",
      textVerticalAlign: "middle",
      verticalAlign: "middle",
    },
  });

  // arrows marking the band
  const ay = 1044;
  const arrowStyle = { stroke: "#000", lineWidth: 1.8, fill: null };
  els.push({ type: "line", silent: true, z: 45, shape: { x1: xa, y1: ay - 14, x2: xa, y2: ay + 14 }, style: arrowStyle });
  els.push({ type: "line", silent: true, z: 45, shape: { x1: xa - 29, y1: ay, x2: xa, y2: ay }, style: arrowStyle });
  els.push({ type: "polyline", silent: true, z: 45, shape: { points: [[xa - 12, ay - 10], [xa - 1, ay], [xa - 12, ay + 10]] }, style: arrowStyle });
  els.push({ type: "line", silent: true, z: 45, shape: { x1: xb, y1: ay - 14, x2: xb, y2: ay + 14 }, style: arrowStyle });
  els.push({ type: "line", silent: true, z: 45, shape: { x1: xb, y1: ay, x2: xb + 29, y2: ay }, style: arrowStyle });
  els.push({ type: "polyline", silent: true, z: 45, shape: { points: [[xb + 12, ay - 10], [xb + 1, ay], [xb + 12, ay + 10]] }, style: arrowStyle });
  return els;
}

export default function App() {
  const ref = useRef<HTMLDivElement>(null);
  useEffect(() => {
    if (!ref.current) return;
    const chart = echarts.init(ref.current, null, { renderer: "svg" });
    chart.setOption(buildOption() as any);
    const xa = chart.convertToPixel({ xAxisIndex: 0 } as any, arrowEnergies[0]) as unknown as number;
    const xb = chart.convertToPixel({ xAxisIndex: 0 } as any, arrowEnergies[1]) as unknown as number;
    chart.setOption({ graphic: buildGraphics(xa, xb) } as any);
    return () => chart.dispose();
  }, []);
  return (
    <div
      ref={ref}
      style={{ position: "fixed", left: 0, top: 0, width: 1580, height: 1154, background: "#fff" }}
    />
  );
}
